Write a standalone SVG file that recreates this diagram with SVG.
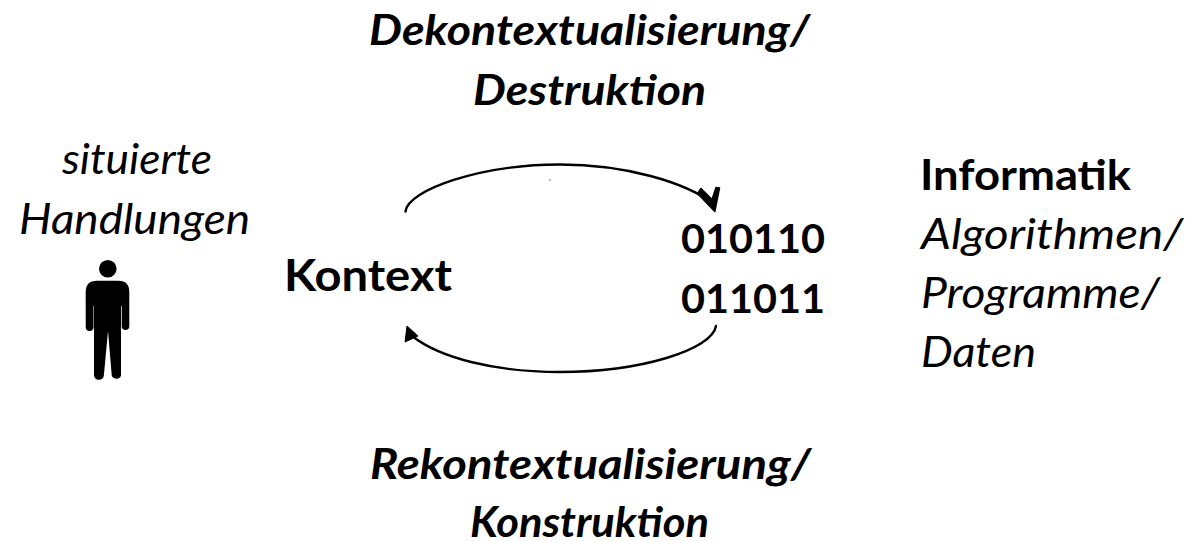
<svg xmlns="http://www.w3.org/2000/svg" width="1192" height="541" viewBox="0 0 1192 541">
<style>
text{font-family:"Lato","Open Sans","Liberation Sans",sans-serif;font-size:42px;fill:#000}
.i{font-style:italic}
.b{font-weight:700}
.bi{font-weight:700;font-style:italic}
.c{fill:none;stroke:#000;stroke-width:2.4;stroke-linecap:round}
</style>
<rect width="1192" height="541" fill="#fff"/>
<g id="label-dekontext">
<text class="bi" x="369" y="45" textLength="441" lengthAdjust="spacingAndGlyphs">Dekontextualisierung/</text>
<text class="bi" x="473" y="105" textLength="233" lengthAdjust="spacingAndGlyphs">Destruktion</text>
</g>
<g id="label-situierte">
<text class="i" x="62" y="174" textLength="150" lengthAdjust="spacingAndGlyphs">situierte</text>
<text class="i" x="19" y="234" textLength="231" lengthAdjust="spacingAndGlyphs">Handlungen</text>
</g>
<g id="person">
<circle cx="107.800" cy="268.700" r="8.800"/>
<path d="M97 280.700H118.500Q129.300 280.700 129.300 292V327A3.900 3.900 0 0 1 121.700 327V306H121V375.500A5 5 0 0 1 111.800 376L108 331L103.800 376A5 5 0 0 1 94 375.500V306H93.500V327A3.900 3.900 0 0 1 85.700 327V292Q85.700 280.700 97 280.700Z"/>
</g>
<g id="kontext"><text class="b" x="284" y="291" textLength="168" lengthAdjust="spacingAndGlyphs" style="font-size:44px">Kontext</text></g>
<g id="binary">
<text class="b" x="681" y="253" textLength="144" lengthAdjust="spacingAndGlyphs" style="font-size:40px">010110</text>
<text class="b" x="681" y="313" textLength="144" lengthAdjust="spacingAndGlyphs" style="font-size:40px">011011</text>
</g>
<g id="informatik">
<text class="b" x="920" y="190" textLength="211" lengthAdjust="spacingAndGlyphs">Informatik</text>
<text class="i" x="921" y="249" textLength="262" lengthAdjust="spacingAndGlyphs">Algorithmen/</text>
<text class="i" x="921" y="308" textLength="239" lengthAdjust="spacingAndGlyphs">Programme/</text>
<text class="i" x="921" y="367" textLength="115" lengthAdjust="spacingAndGlyphs">Daten</text>
</g>
<g id="label-rekontext">
<text class="bi" x="370" y="479" textLength="441" lengthAdjust="spacingAndGlyphs">Rekontextualisierung/</text>
<text class="bi" x="470" y="536.700" textLength="239" lengthAdjust="spacingAndGlyphs">Konstruktion</text>
</g>
<g id="connectors">
<path class="c" d="M405.500 211.500C408 190 480 164.500 560 164.500C625 164.500 685 182 714 204"/>
<path d="M697.500 193.500L701 188.500L712 199.500L716 187.500L719.500 188L714.800 211.500Z" stroke="#000" stroke-width="1.500" stroke-linejoin="round"/>
<path class="c" d="M716 326C712 350 640 372 560 372C495 372 440 358 412 336"/>
<path d="M405 342L407 326L418 336Z" stroke="#000" stroke-width="1" stroke-linejoin="round"/>
</g>
<circle cx="550" cy="180" r="0.800" fill="#666"/>
</svg>
